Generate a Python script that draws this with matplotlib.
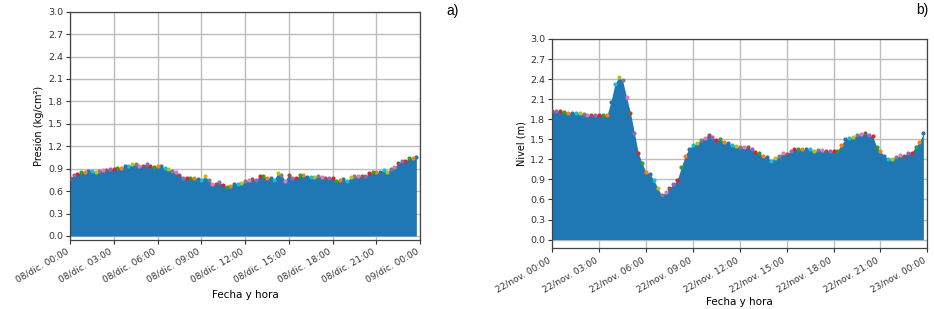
import numpy as np
import pandas as pd
import matplotlib
matplotlib.use("Agg")
import matplotlib.pyplot as plt

# ---------------- data ----------------
# Panel a: pressure every 15 min, 08/dic 00:00 .. 23:45
presion = [
    0.78, 0.81, 0.83, 0.85, 0.86, 0.87, 0.87, 0.86, 0.87, 0.88, 0.88, 0.89,
    0.90, 0.91, 0.91, 0.93, 0.93, 0.96, 0.96, 0.93, 0.94, 0.96, 0.93, 0.92,
    0.93, 0.93, 0.91, 0.89, 0.87, 0.85, 0.82, 0.78, 0.78, 0.78, 0.78, 0.76,
    0.75, 0.80, 0.75, 0.70, 0.69, 0.72, 0.68, 0.66, 0.67, 0.70, 0.69, 0.71,
    0.73, 0.75, 0.76, 0.75, 0.80, 0.80, 0.78, 0.78, 0.75, 0.84, 0.82, 0.74,
    0.82, 0.78, 0.77, 0.81, 0.82, 0.79, 0.79, 0.79, 0.80, 0.79, 0.78, 0.78,
    0.78, 0.74, 0.75, 0.76, 0.73, 0.79, 0.80, 0.80, 0.80, 0.80, 0.84, 0.85,
    0.85, 0.86, 0.88, 0.86, 0.90, 0.92, 0.97, 1.00, 1.00, 1.04, 1.04, 1.06,
]
# Panel b: level every 15 min, 22/nov 00:00 .. 23:45
nivel = [
    1.93, 1.93, 1.92, 1.91, 1.90, 1.90, 1.89, 1.89, 1.88, 1.87, 1.87, 1.87,
    1.87, 1.87, 1.86, 2.06, 2.32, 2.43, 2.38, 2.13, 1.90, 1.60, 1.30, 1.14,
    1.01, 0.98, 0.89, 0.77, 0.66, 0.71, 0.77, 0.83, 0.89, 1.08, 1.25, 1.36,
    1.41, 1.44, 1.49, 1.52, 1.57, 1.53, 1.49, 1.50, 1.46, 1.44, 1.42, 1.40,
    1.39, 1.39, 1.38, 1.35, 1.31, 1.29, 1.25, 1.23, 1.18, 1.22, 1.25, 1.30,
    1.28, 1.32, 1.36, 1.35, 1.35, 1.35, 1.35, 1.32, 1.34, 1.34, 1.33, 1.33,
    1.32, 1.33, 1.42, 1.50, 1.52, 1.53, 1.56, 1.58, 1.59, 1.56, 1.55, 1.39,
    1.32, 1.25, 1.21, 1.21, 1.23, 1.26, 1.25, 1.30, 1.30, 1.39, 1.46, 1.59,
]
tiempo_a = pd.date_range("2019-12-08 00:00", periods=len(presion), freq="15min")
tiempo_b = pd.date_range("2019-11-22 00:00", periods=len(nivel), freq="15min")

ticks_a = pd.date_range("2019-12-08 00:00", "2019-12-09 00:00", freq="3h")
ticks_b = pd.date_range("2019-11-22 00:00", "2019-11-23 00:00", freq="3h")
ticklabels_a = ["08/dic. 00:00", "08/dic. 03:00", "08/dic. 06:00", "08/dic. 09:00",
                "08/dic. 12:00", "08/dic. 15:00", "08/dic. 18:00", "08/dic. 21:00",
                "09/dic. 00:00"]
ticklabels_b = ["22/nov. 00:00", "22/nov. 03:00", "22/nov. 06:00", "22/nov. 09:00",
                "22/nov. 12:00", "22/nov. 15:00", "22/nov. 18:00", "22/nov. 21:00",
                "23/nov. 00:00"]
yticks = np.round(np.arange(0, 3.01, 0.3), 1)

# ---------------- figure ----------------
W, H = 934, 309
fig = plt.figure(figsize=(W / 100, H / 100), dpi=100)
plt.rcParams['font.family'] = ['DejaVu Sans']

ax_a = fig.add_axes([70 / W, 1 - 239.7 / H, 350 / W, 228 / H])
ax_b = fig.add_axes([552.3 / W, 1 - 248.3 / H, 375 / W, 209.3 / H])

def draw(ax, t, v, ticks, ticklabels, ylabel, ybot, xpad):
    ax.set_axisbelow(True)
    ax.grid(True, color="#bdbdbd", linewidth=1.0)
    ax.fill_between(t, 0, v, color="#1f77b4", linewidth=0, zorder=2)
    # points plotted newest first, each with the next colour of the cycle
    for ti, vi in zip(t[::-1], v[::-1]):
        ax.plot([ti], [vi], "o", ms=3.0, mew=0, zorder=3)
    ax.set_xlim(ticks[0], ticks[-1])
    ax.set_ylim(ybot, 3.0)
    ax.set_yticks(yticks)
    ax.set_yticklabels([f"{y:.1f}" for y in yticks], fontsize=6.8)
    ax.set_xticks(ticks)
    ax.set_xticklabels(ticklabels, rotation=30, ha="right", fontsize=6.5)
    ax.tick_params(length=3, width=0.8, colors="#333333", pad=2)
    ax.set_xlabel("Fecha y hora", fontsize=7.5, labelpad=xpad)
    ax.set_ylabel(ylabel, fontsize=7, labelpad=3)
    for s in ax.spines.values():
        s.set_color("#444444")
        s.set_linewidth(0.9)

draw(ax_a, tiempo_a, presion, ticks_a, ticklabels_a, "Presión (kg/cm²)", -0.05, 4)
draw(ax_b, tiempo_b, nivel, ticks_b, ticklabels_b, "Nivel (m)", -0.13, 2)

fig.text(453 / W, 1 - 11 / H, "a)", fontsize=10, ha="center", va="center",
         family=["Liberation Sans", "DejaVu Sans"])
fig.text(922 / W, 1 - 10 / H, "b)", fontsize=10, ha="center", va="center",
         family=["Liberation Sans", "DejaVu Sans"])

fig.savefig("out.png", dpi=100)
